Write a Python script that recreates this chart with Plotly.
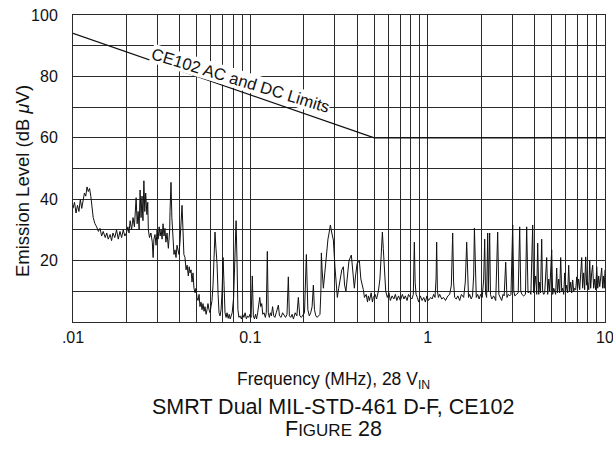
import plotly.graph_objects as go

# ---------------- data ----------------
limit_freq_mhz = [0.01, 0.5, 10.0]
limit_level_dbuv = [94.0, 60.0, 60.0]

emission_freq_mhz = [
    0.0100, 0.0102, 0.0104, 0.0106, 0.0108, 0.0110, 0.0112, 0.0114, 0.0116, 0.0118,
    0.0120, 0.0122, 0.0124, 0.0126, 0.0128, 0.0130, 0.0133, 0.0136, 0.0139, 0.0142,
    0.0145, 0.0148, 0.0152, 0.0155, 0.0158, 0.0162, 0.0165, 0.0168, 0.0172, 0.0176,
    0.0180, 0.0184, 0.0188, 0.0192, 0.0196, 0.0200, 0.0204, 0.0207, 0.0210, 0.0214,
    0.0218, 0.0222, 0.0227, 0.0230, 0.0233, 0.0236, 0.0239, 0.0242, 0.0245, 0.0248,
    0.0251, 0.0254, 0.0257, 0.0261, 0.0264, 0.0266, 0.0270, 0.0275, 0.0280, 0.0283,
    0.0286, 0.0290, 0.0294, 0.0298, 0.0302, 0.0306, 0.0310, 0.0314, 0.0318, 0.0322,
    0.0326, 0.0330, 0.0334, 0.0339, 0.0345, 0.0351, 0.03525, 0.0357, 0.0361, 0.0366,
    0.0371, 0.0376, 0.0381, 0.0386, 0.0391, 0.0396, 0.0401, 0.0406, 0.0412, 0.0417,
    0.0422, 0.0428, 0.0434, 0.0440, 0.0447, 0.0452, 0.0457, 0.0463, 0.0469, 0.0475,
    0.0481, 0.0488, 0.0494, 0.0500, 0.0507, 0.0514, 0.0520, 0.0527, 0.0534, 0.0541,
    0.0548, 0.0555, 0.0563, 0.0570, 0.0577, 0.0585, 0.0593, 0.0600, 0.0608, 0.0616,
    0.0624, 0.0632, 0.0640, 0.0649, 0.0658, 0.0666, 0.0675, 0.0684, 0.0693, 0.0702,
    0.0711, 0.0720, 0.0730, 0.0739, 0.0750, 0.0760, 0.0770, 0.0780, 0.0790, 0.0805,
    0.0820, 0.0831, 0.0841, 0.0851, 0.0862, 0.0875, 0.0890, 0.0905, 0.0920, 0.0934,
    0.0950, 0.0965, 0.0980, 0.0995, 0.1010, 0.1026, 0.1040, 0.1055, 0.1070, 0.1085,
    0.1100, 0.1115, 0.1130, 0.1145, 0.1160, 0.1175, 0.1195, 0.1215, 0.1230, 0.1247,
    0.1262, 0.1280, 0.1297, 0.1315, 0.1335, 0.1355, 0.1375, 0.1400, 0.1439, 0.1460,
    0.1490, 0.1520, 0.1550, 0.1580, 0.1610, 0.1638, 0.1660, 0.1690, 0.1720, 0.1750,
    0.1790, 0.1830, 0.1865, 0.1900, 0.1940, 0.1980, 0.2020, 0.2070, 0.2110, 0.2150,
    0.2190, 0.2230, 0.2267, 0.2300, 0.2340, 0.2380, 0.2420, 0.2470, 0.2500, 0.2515,
    0.2540, 0.2581, 0.2630, 0.2684, 0.2740, 0.2780, 0.2827, 0.2880, 0.2939, 0.3000,
    0.3050, 0.3095, 0.3150, 0.3218, 0.3280, 0.3346, 0.3400, 0.3460, 0.3525, 0.3600,
    0.3712, 0.3800, 0.3860, 0.3920, 0.4000, 0.4119, 0.4200, 0.4339, 0.4400, 0.4500,
    0.4580, 0.4630, 0.4700, 0.4800, 0.4880, 0.4940, 0.5050, 0.5150, 0.5270, 0.5380,
    0.5480, 0.5554, 0.5620, 0.5700, 0.5800, 0.5926, 0.6050, 0.6160, 0.6300, 0.6450,
    0.6575, 0.6700, 0.6850, 0.7015, 0.7200, 0.7350, 0.7485, 0.7650, 0.7800, 0.7990,
    0.8150, 0.8300, 0.8350, 0.8410, 0.8500, 0.8600, 0.8748, 0.8900, 0.9095, 0.9300,
    0.9500, 0.9705, 0.9900, 1.010, 1.040, 1.060, 1.081, 1.100, 1.115, 1.124,
    1.135, 1.150, 1.169, 1.200, 1.230, 1.260, 1.300, 1.331, 1.360, 1.384,
    1.400, 1.420, 1.450, 1.480, 1.515, 1.550, 1.596, 1.630, 1.660, 1.680,
    1.700, 1.725, 1.760, 1.790, 1.817, 1.835, 1.850, 1.880, 1.914, 1.950,
    1.990, 2.030, 2.070, 2.097, 2.120, 2.150, 2.180, 2.200, 2.237, 2.260,
    2.300, 2.356, 2.420, 2.482, 2.520, 2.560, 2.615, 2.660, 2.700, 2.754,
    2.800, 2.850, 2.901, 2.950, 3.016, 3.060, 3.100, 3.170, 3.240, 3.303,
    3.350, 3.400, 3.479, 3.560, 3.617, 3.680, 3.760, 3.820, 3.910, 3.960,
    4.020, 4.066, 4.120, 4.173, 4.230, 4.283, 4.330, 4.395, 4.450, 4.510,
    4.570, 4.691, 4.750, 4.820, 4.877, 5.005, 5.070, 5.140, 5.204, 5.270,
    5.341, 5.400, 5.482, 5.550, 5.625, 5.700, 5.774, 5.850, 5.926, 6.000,
    6.081, 6.160, 6.241, 6.320, 6.406, 6.490, 6.575, 6.660, 6.748, 6.840,
    6.925, 7.010, 7.100, 7.200, 7.390, 7.480, 7.584, 7.680, 7.783, 7.880,
    7.990, 8.100, 8.200, 8.300, 8.410, 8.520, 8.630, 8.748, 8.860, 8.980,
    9.100, 9.215, 9.340, 9.460, 9.580, 9.700, 9.800, 9.900, 10.00,
]

emission_level_dbuv = [
    37, 39, 35.5, 38, 36, 40, 37, 39, 42, 41,
    44, 42.5, 43.5, 41, 37, 34, 32, 31, 29.5, 30.5,
    28, 29.5, 27.5, 29, 27, 28.5, 26.5, 29, 27.5, 30,
    27, 29.5, 27.5, 30, 28, 29, 31, 29, 33, 30,
    34, 31, 40.5, 32, 36, 30, 43, 34, 41, 33,
    46, 36, 42, 35, 39, 30, 27.5, 29, 26, 21,
    27, 28.5, 25, 30, 27, 31, 28, 30, 27, 32,
    28, 30.5, 26, 29, 24, 30, 36, 45.5, 34, 26,
    22, 23.5, 21, 25, 23, 22, 26, 32, 38, 30,
    22, 21, 17, 18.5, 15, 18, 16, 17, 13, 16,
    11, 9.5, 11, 8, 7, 9, 5, 6.5, 4, 6,
    3.5, 5, 2.5, 4, 6, 4, 3, 5, 7, 12,
    22, 29.3, 24, 19, 9, 3, 2, 4, 10, 21,
    12, 3, 1.5, 3, 1.2, 2.5, 1, 2, 3, 8,
    22, 33, 20, 4, 1.5, 2, 1, 2.5, 1.5, 3,
    1, 2, 1.5, 2.5, 1.5, 15, 2, 1, 2.5, 1,
    3, 5, 8, 5, 6, 2.5, 3, 1.5, 3, 23,
    3, 1.5, 3, 2, 5, 2, 1.5, 3, 5.5, 2,
    1.5, 3, 2, 1.5, 2.5, 14.7, 2, 1.5, 2.5, 1,
    3, 2, 8, 2, 1.5, 2.5, 3, 22, 4, 2,
    3, 5, 12, 4, 2, 1.5, 2, 2.5, 10, 22.5,
    17, 11, 16, 22, 27, 29, 31.6, 29, 26.7, 18,
    12, 8, 11, 14, 17, 18, 12, 10, 15, 20,
    21.8, 14, 11, 15, 19, 20, 14, 10.5, 8, 9,
    6.5, 8.5, 7, 9.5, 6.5, 8, 9, 7.5, 10, 14,
    22, 29.3, 24, 15, 10, 8, 9.5, 7, 8.5, 7.5,
    9, 7, 8.5, 7, 9, 7.5, 8.5, 7, 9, 8,
    7.5, 9, 18, 26, 13, 9, 8, 6.5, 8.5, 7,
    8, 6.5, 8.5, 7, 8, 7.5, 9, 8, 14, 26,
    10, 8, 9, 7.5, 8, 7, 8.5, 9, 12, 29,
    13, 8, 7.5, 8.5, 7, 9, 8, 13, 26, 14,
    8, 9, 7.5, 8.5, 15, 30.6, 18, 8, 9, 7.5,
    9, 8, 14, 27, 9.5, 8, 29, 10, 29, 9,
    7.5, 8.5, 7, 29.3, 9, 8, 7, 9, 8.5, 19.5,
    8, 9, 8.5, 9, 31.6, 10, 8.5, 9, 9.5, 31,
    10, 9, 8.5, 9, 31, 9.5, 10, 9, 31.6, 9.5,
    12, 15, 9, 25.7, 9, 13, 9.5, 27, 10, 9,
    9.5, 21, 9, 14, 10, 23.5, 9, 11, 10, 9,
    17.6, 9.5, 14, 9.5, 21, 10, 11, 9, 16, 10,
    12, 9.5, 18.5, 10, 13, 9.5, 13.7, 10, 11, 10.5,
    14.7, 11, 14, 10.5, 21, 11, 16, 10.5, 21.2, 12,
    13, 10.5, 20, 11, 16, 18.5, 11, 14, 10.5, 18,
    11, 15, 11.5, 14, 17.6, 11, 15, 11, 17,
]

x_tick_values = [0.01, 0.1, 1, 10]
x_tick_labels = [".01", "0.1", "1", "10"]
y_tick_values = [20, 40, 60, 80, 100]
y_tick_labels = ["20", "40", "60", "80", "100"]
y_grid_values = [0, 10, 20, 30, 40, 50, 60, 70, 80, 90, 100]
x_minor_grid = [k * 10.0 ** e for e in (-2, -1, 0) for k in range(2, 10)]

FONT = "Liberation Sans, Arial, Helvetica, sans-serif"
GRID = "#2a2a2a"

fig = go.Figure()
fig.add_trace(go.Scatter(
    x=emission_freq_mhz, y=emission_level_dbuv, mode="lines",
    line=dict(color="#111111", width=1), hoverinfo="skip", showlegend=False,
))
fig.add_trace(go.Scatter(
    x=limit_freq_mhz, y=limit_level_dbuv, mode="lines",
    line=dict(color="#111111", width=1.3), hoverinfo="skip", showlegend=False,
))

fig.update_layout(
    width=613, height=449,
    margin=dict(l=73, r=8, t=15, b=127),
    paper_bgcolor="white", plot_bgcolor="white",
    font=dict(family=FONT, color="#111111", size=16),
    showlegend=False,
)
fig.update_xaxes(
    type="log", range=[-2, 1], automargin=False,
    tickvals=x_tick_values, ticktext=x_tick_labels,
    showgrid=True, gridcolor=GRID, gridwidth=1,
    minor=dict(tickvals=x_minor_grid, showgrid=True, gridcolor=GRID, gridwidth=1, ticks=""),
    showline=True, linecolor=GRID, linewidth=1, mirror=True,
    ticks="", ticklabelstandoff=1, zeroline=False, ticklabeloverflow="allow",
    tickfont=dict(size=16),
)
fig.update_yaxes(
    range=[0, 100], automargin=False,
    tickvals=y_tick_values, ticktext=y_tick_labels,
    showgrid=True, gridcolor=GRID, gridwidth=1,
    minor=dict(tickvals=y_grid_values, showgrid=True, gridcolor=GRID, gridwidth=1, ticks=""),
    showline=True, linecolor=GRID, linewidth=1, mirror=True,
    ticks="", ticklabelstandoff=11, zeroline=False, ticklabeloverflow="allow",
    tickfont=dict(size=16),
)

fig.add_annotation(
    x=-1.058, y=78.8, xref="x", yref="y",
    text="CE102 AC and DC Limits", showarrow=False, textangle=17,
    font=dict(size=16.5), bgcolor="white", borderpad=0,
)
fig.add_annotation(
    x=-0.0959, y=0.459, xref="paper", yref="paper",
    text="Emission Level (dB <i>μ</i>V)", showarrow=False, textangle=-90,
    font=dict(size=18.5), xanchor="center", yanchor="middle",
)
fig.add_annotation(
    x=0.489, y=-0.192, xref="paper", yref="paper",
    text="Frequency (MHz), 28 V<sub>IN</sub>", showarrow=False,
    font=dict(size=17.5), xanchor="center", yanchor="middle",
)
fig.add_annotation(
    x=0.489, y=-0.277, xref="paper", yref="paper",
    text="SMRT Dual MIL-STD-461 D-F, CE102", showarrow=False,
    font=dict(size=21.5), xanchor="center", yanchor="middle",
)
fig.add_annotation(
    x=0.489, y=-0.3485, xref="paper", yref="paper",
    text="F<span style='font-size:17px'>IGURE</span> 28", showarrow=False,
    font=dict(size=21.5), xanchor="center", yanchor="middle",
)

fig.write_html(
    "out.html",
    config={"displayModeBar": False},
    post_script="document.body.style.margin='0';document.body.style.overflow='hidden';",
)
